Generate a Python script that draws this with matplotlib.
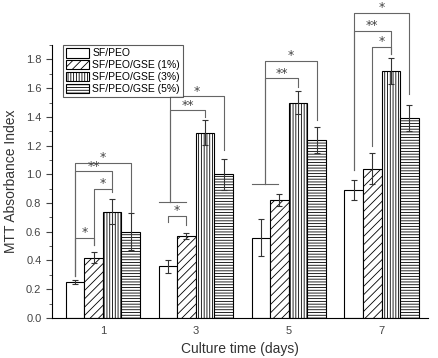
import numpy as np
import matplotlib
matplotlib.use("Agg")
import matplotlib.pyplot as plt
from matplotlib.ticker import MultipleLocator

days = [1, 3, 5, 7]
labels = ["SF/PEO", "SF/PEO/GSE (1%)", "SF/PEO/GSE (3%)", "SF/PEO/GSE (5%)"]
hatches = ["", "////", "||||||", "------"]

sfpeo = [0.25, 0.36, 0.56, 0.89]
gse1 = [0.42, 0.57, 0.82, 1.04]
gse3 = [0.74, 1.29, 1.50, 1.72]
gse5 = [0.60, 1.00, 1.24, 1.39]

sfpeo_err = [0.015, 0.045, 0.13, 0.07]
gse1_err = [0.04, 0.02, 0.04, 0.11]
gse3_err = [0.085, 0.085, 0.08, 0.09]
gse5_err = [0.13, 0.11, 0.09, 0.09]

# significance brackets: x_left, x_right, height, left leg end, right leg end, label
brackets = [
    (0.4, 1.6, 1.08, 0.29, 0.74, "*"),
    (0.4, 1.2, 1.02, 0.29, 0.90, "**"),
    (0.8, 1.2, 0.90, 0.51, 0.88, "*"),
    (0.4, 0.8, 0.56, 0.29, 0.51, "*"),
    (2.45, 3.6, 1.545, 0.81, 1.17, "*"),
    (2.45, 3.2, 1.447, 0.81, 1.40, "**"),
    (2.4, 2.8, 0.713, 0.67, 0.65, "*"),
    (4.5, 5.6, 1.79, 0.93, 1.38, "*"),
    (4.5, 5.2, 1.67, 0.93, 1.61, "**"),
    (6.4, 7.6, 2.125, 1.03, 1.56, "*"),
    (6.4, 7.2, 2.0, 1.03, 1.84, "**"),
    (6.8, 7.2, 1.89, 1.20, 1.84, "*"),
]
# little horizontal feet under the shared left legs
feet = [(2.2, 2.8, 0.81), (4.2, 4.78, 0.93)]

series = [sfpeo, gse1, gse3, gse5]
errs = [sfpeo_err, gse1_err, gse3_err, gse5_err]
offsets = [-0.6, -0.2, 0.2, 0.6]
w = 0.4

plt.rcParams["font.family"] = ["Liberation Sans", "DejaVu Sans"]
plt.rcParams["hatch.linewidth"] = 0.6
plt.rcParams["hatch.color"] = "#333333"
fig = plt.figure(figsize=(4.39, 3.58), dpi=100)
ax = fig.add_axes([0.118, 0.112, 0.857, 0.762])

x = np.array(days, dtype=float)
for vals, err, off, h, lab in zip(series, errs, offsets, hatches, labels):
    ax.bar(x + off, vals, w, color="white", edgecolor="black", hatch=h,
           linewidth=0.8, label=lab)
    ax.errorbar(x + off, vals, yerr=err, fmt="none", ecolor="#333333",
                elinewidth=0.8, capsize=2.5, capthick=0.8)

lc = "#666666"
for xl, xr, yb, yl, yr, s in brackets:
    ax.plot([xl, xl, xr, xr], [yl, yb, yb, yr], color=lc, lw=0.8, clip_on=False)
    ax.text((xl + xr) / 2, yb - 0.01, s, ha="center", va="bottom",
            fontsize=9, color="#444444", family="DejaVu Sans", clip_on=False)
for xa, xb, yf in feet:
    ax.plot([xa, xb], [yf, yf], color=lc, lw=0.8)

ax.set_xlim(-0.1, 8.0)
ax.set_ylim(0, 1.9)
ax.set_xticks(days)
ax.tick_params(axis="x", length=0, labelsize=8, colors="#444444", pad=6)
ax.yaxis.set_major_locator(MultipleLocator(0.2))
ax.yaxis.set_minor_locator(MultipleLocator(0.1))
ax.tick_params(axis="y", which="major", length=4, labelsize=8, colors="#444444")
ax.tick_params(axis="y", which="minor", length=2, colors="#444444")
ax.set_yticklabels([f"{v:.1f}" for v in ax.get_yticks()])
ax.spines["top"].set_visible(False)
ax.spines["right"].set_visible(False)
ax.set_xlabel("Culture time (days)", fontsize=10, color="#333333", labelpad=4)
ax.set_ylabel("MTT Absorbance Index", fontsize=10, color="#333333", labelpad=6)

leg = ax.legend(loc="upper left", bbox_to_anchor=(0.03, 1.0), fontsize=7.5,
                frameon=True, fancybox=False, edgecolor="#333333",
                handlelength=2.2, handleheight=1.0, handletextpad=0.3,
                labelspacing=0.15, borderpad=0.3, borderaxespad=0.0)
leg.get_frame().set_linewidth(0.8)

fig.savefig("out.png", dpi=100)
